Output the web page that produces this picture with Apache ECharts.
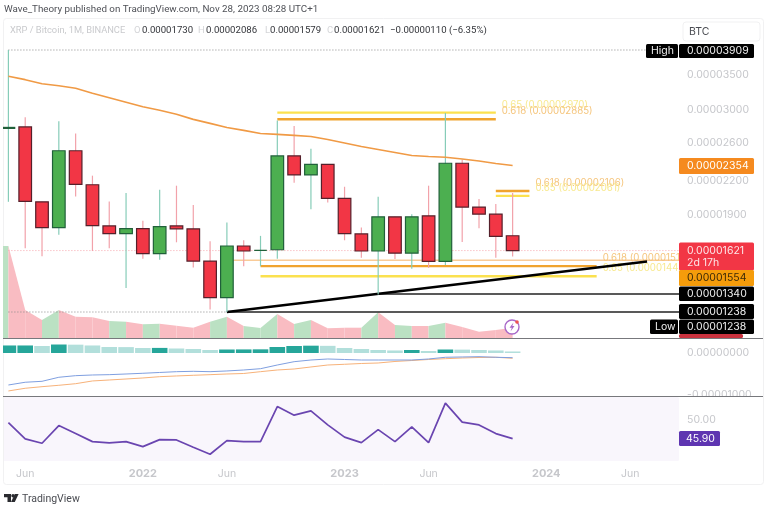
<!DOCTYPE html>
<html>
<head>
<meta charset="utf-8">
<title>XRP / Bitcoin</title>
<script src="https://cdn.jsdelivr.net/npm/echarts@6/dist/echarts.min.js"></script>
<style>
  html, body { margin: 0; padding: 0; background: #fff; }
  #chart { width: 767px; height: 510px; }
</style>
</head>
<body>
<div id="chart"></div>
<script>
// prices are in satoshi (1e-8 BTC), the axis formatter turns them back into BTC
const months = [
  '2021-05', '2021-06', '2021-07', '2021-08', '2021-09', '2021-10', '2021-11', '2021-12',
  '2022-01', '2022-02', '2022-03', '2022-04', '2022-05', '2022-06', '2022-07', '2022-08',
  '2022-09', '2022-10', '2022-11', '2022-12', '2023-01', '2023-02', '2023-03', '2023-04',
  '2023-05', '2023-06', '2023-07', '2023-08', '2023-09', '2023-10', '2023-11', '2023-12',
  '2024-01', '2024-02', '2024-03', '2024-04', '2024-05', '2024-06', '2024-07', '2024-08',
  '2024-09'
];
const opens = [2771, 2789, 2008, 1793, 2512, 2164, 1806, 1746, 1785, 1599, 1806, 1783, 1548, 1319, 1654, 1622,
  1627, 2456, 2259, 2367, 2039, 1744, 1618, 1880, 1603, 1888, 1546, 2378, 1962, 1902, 1730];
const highs = [3909, 2909, 2008, 2858, 2710, 2252, 2011, 2087, 1847, 2117, 2155, 1979, 1689, 1833, 1696, 1729,
  2870, 2799, 2534, 2367, 2145, 1793, 2053, 1880, 1902, 2155, 2965, 2417, 2032, 1988, 2086];
const lows = [2008, 1637, 1582, 1738, 2056, 1618, 1637, 1376, 1564, 1557, 1681, 1505, 1251, 1238, 1514, 1514,
  1564, 2184, 1944, 2002, 1696, 1571, 1337, 1562, 1496, 1503, 1521, 1683, 1788, 1571, 1579];
const closes = [2783, 2011, 1793, 2512, 2167, 1809, 1746, 1785, 1599, 1801, 1783, 1548, 1319, 1654, 1618, 1622,
  2456, 2259, 2367, 2039, 1746, 1618, 1880, 1603, 1880, 1546, 2378, 1962, 1902, 1726, 1621];
const ma200 = [3485, 3432, 3372, 3342, 3306, 3234, 3170, 3108, 3047, 3000, 2948, 2883, 2833, 2783, 2747, 2710,
  2699, 2687, 2675, 2640, 2600, 2560, 2526, 2493, 2460, 2449, 2441, 2422, 2401, 2375, 2354];
const volumes = [92, 28, 18, 28, 21.3, 20.7, 17, 16.3, 13.7, 14.3, 12.3, 10.3, 16.3, 21.3, 12, 10,
  24, 14, 18, 9.7, 10.3, 10.3, 25.7, 13, 12, 12, 15.3, 11, 6.3, 8, 10.3];
const macdHist = [179, 179, 167, 202, 198, 179, 143, 140, 119, 121, 107, 95, 71, 83, 85, 87,
  143, 167, 174, 170, 119, 95, 71, 60, 71, 48, 83, 80, 71, 60, 36];
const macdLine = [-762, -697, -674, -578, -540, -524, -516, -500, -483, -464, -445, -436, -445, -428, -405, -374,
  -286, -207, -167, -143, -155, -167, -167, -167, -167, -143, -102, -95, -88, -102, -112];
const macdSignal = [-904, -840, -802, -769, -731, -666, -643, -619, -595, -564, -547, -531, -516, -500, -488, -445,
  -405, -381, -333, -286, -269, -250, -238, -202, -179, -155, -136, -119, -107, -102, -126];
const rsi = [49.41, 45.83, 44.89, 48.75, 47.0, 45.24, 44.96, 45.24, 44.14, 45.68, 45.61, 44.01, 42.48, 45.46, 45.24, 45.24,
  52.92, 51.03, 51.97, 48.9, 46.21, 45.02, 47.87, 45.24, 48.46, 45.02, 53.66, 49.5, 48.9, 47.0, 45.9];

const priceTicks = [3500, 3000, 2600, 2200, 1900];
const macdTicks = [0, -1000];
const rsiTicks = [50];

// [label, price, first month index, last month index]
const fibLines = [
  ['0.65 (0.00002970)', 2970, 16, 29],
  ['0.618 (0.00002885)', 2885, 16, 29],
  ['0.618 (0.00002106)', 2106, 29, 31],
  ['0.65 (0.00002061)', 2061, 29, 31],
  ['0.618 (0.00001514)', 1514, 15, 35],
  ['0.65 (0.00001448)', 1448, 15, 35]
];

const FONT = 'Inter, "Noto Sans", sans-serif';
const HEAD_FONT = 'Roboto, "Noto Sans", sans-serif';
const GRID_LEFT = -0.9;
const GRID_WIDTH = 690;
const GRAY_TEXT = '#c6c7cb';

const chart = echarts.init(document.getElementById('chart'));

const fmtPrice = v => (v / 1e8).toFixed(8);

function isUp(i) {
  return closes[i] >= opens[i];
}

function segment(name, from, to, price, color, width, type, z) {
  return {
    name: name,
    type: 'line',
    xAxisIndex: 0,
    yAxisIndex: 0,
    clip: false,
    silent: true,
    showSymbol: false,
    z: z || 3,
    lineStyle: { color: color, width: width, type: type || 'solid' },
    data: [[from, price], [to, price]]
  };
}

const series = [];

// volume, one filled wedge per month coloured by that month's candle
series.push({
  type: 'custom',
  xAxisIndex: 1,
  yAxisIndex: 1,
  z: 1,
  silent: true,
  renderItem: function(params, api) {
    const i = api.value(0);
    const step = api.size([1, 0])[0];
    const cur = api.coord([i, api.value(1)]);
    const base = api.coord([i, 0])[1];
    const prevX = cur[0] - step;
    const prevY = i === 0 ? cur[1] : api.coord([i - 1, api.value(2)])[1];
    return {
      type: 'polygon',
      shape: { points: [[prevX, base], [prevX, prevY], [cur[0], cur[1]], [cur[0], base]] },
      style: { fill: api.value(3) ? '#bbe1c3' : '#f9bcc2' }
    };
  },
  data: volumes.map((v, i) => [i, v, i > 0 ? volumes[i - 1] : v, isUp(i) ? 1 : 0])
});

// dotted high, low and last price lines
series.push(segment('high', 0, 38, 3909, '#8a8a8a', 1, [1, 2]));
series.push(segment('low', 0, 13, 1238, '#8a8a8a', 1, [1, 2]));
series.push(segment('last', 0, 40, 1621, '#f7a6ae', 1, [1, 2]));

// fib levels
series.push(segment('level', 13, 40, 1554, '#f9cb98', 1.5));
fibLines.forEach(function(f) {
  const yellow = f[0].indexOf('0.65') === 0;
  const s = segment(f[0], f[2], f[3], f[1], yellow ? '#fbe14f' : '#f0a32e', 2.4);
  s.endLabel = {
    show: true,
    formatter: f[0],
    color: yellow ? '#f8e98f' : '#f5c57c',
    fontFamily: FONT,
    fontSize: 9.7,
    distance: 6,
    offset: [0, -8]
  };
  series.push(s);
});

// support lines
series.push(segment('support 1340', 22, 40, 1340, '#222', 1.5));
series.push(segment('support 1238', 13, 40, 1238, '#222', 1.5));
series.push({
  name: 'trend',
  type: 'line',
  xAxisIndex: 0,
  yAxisIndex: 0,
  clip: false,
  showSymbol: false,
  silent: true,
  z: 4,
  lineStyle: { color: '#000', width: 2.5 },
  data: [[13, 1238], [38, 1545]]
});

// candles, custom because wick and body have different colours here
series.push({
  type: 'custom',
  xAxisIndex: 0,
  yAxisIndex: 0,
  z: 5,
  silent: true,
  encode: { x: 0, y: [1, 2, 3, 4] },
  renderItem: function(params, api) {
    const i = api.value(0);
    const w = api.size([1, 0])[0] * 0.75;
    const up = api.value(2) >= api.value(1);
    const top = api.coord([i, Math.max(api.value(1), api.value(2))]);
    const bottom = api.coord([i, Math.min(api.value(1), api.value(2))]);
    const high = api.coord([i, api.value(4)]);
    const low = api.coord([i, api.value(3)]);
    return {
      type: 'group',
      children: [
        {
          type: 'line',
          shape: { x1: top[0], y1: high[1], x2: top[0], y2: low[1] },
          style: { stroke: up ? '#86ccb8' : '#f2a2aa', lineWidth: 1.2 }
        },
        {
          type: 'rect',
          shape: { x: top[0] - w / 2, y: top[1], width: w, height: bottom[1] - top[1] },
          style: { fill: up ? '#4caf50' : '#f23645', stroke: up ? '#20603a' : '#55202b', lineWidth: 1.2 }
        }
      ]
    };
  },
  data: opens.map((o, i) => [i, o, closes[i], lows[i], highs[i]])
});

series.push({
  name: 'MA',
  type: 'line',
  xAxisIndex: 0,
  yAxisIndex: 0,
  showSymbol: false,
  silent: true,
  z: 6,
  clip: false,
  lineStyle: { color: '#f09a45', width: 1.6 },
  data: ma200.map((v, i) => [i, v])
});

// macd pane
series.push({
  type: 'bar',
  xAxisIndex: 2,
  yAxisIndex: 2,
  barWidth: 15.6,
  silent: true,
  data: macdHist.map(function(v, i) {
    const rising = i === 0 || v >= macdHist[i - 1];
    return { value: [i, v], itemStyle: { color: rising ? '#26a69a' : '#b2dfdb' } };
  })
});
series.push({
  type: 'line',
  xAxisIndex: 2,
  yAxisIndex: 2,
  showSymbol: false,
  silent: true,
  lineStyle: { color: '#f7b27a', width: 1 },
  data: macdSignal.map((v, i) => [i, v])
});
series.push({
  type: 'line',
  xAxisIndex: 2,
  yAxisIndex: 2,
  showSymbol: false,
  silent: true,
  lineStyle: { color: '#7f9fe0', width: 1 },
  data: macdLine.map((v, i) => [i, v])
});

// rsi pane
series.push({
  type: 'line',
  xAxisIndex: 3,
  yAxisIndex: 3,
  showSymbol: false,
  silent: true,
  lineStyle: { color: '#6a45b0', width: 1.7 },
  data: rsi.map((v, i) => [i, v])
});

const hiddenX = {
  type: 'category',
  data: months,
  show: false
};
const xAxes = [0, 1, 2].map(function(g) {
  return Object.assign({ gridIndex: g }, hiddenX);
});
xAxes.push({
  type: 'category',
  gridIndex: 3,
  data: months,
  axisLine: { show: false },
  axisTick: { show: false },
  axisLabel: {
    interval: function(i, m) {
      return m.slice(5) === '06' || m.slice(5) === '01';
    },
    margin: 7,
    hideOverlap: false,
    formatter: function(m) {
      return m.slice(5) === '06' ? '{m|Jun}' : '{y|' + m.slice(0, 4) + '}';
    },
    rich: {
      m: { color: GRAY_TEXT, fontFamily: FONT, fontSize: 10.5 },
      y: { color: GRAY_TEXT, fontFamily: FONT, fontSize: 11, fontWeight: 'bold' }
    }
  }
});

function rightAxis(grid, extra) {
  return Object.assign({
    gridIndex: grid,
    position: 'right',
    axisLine: { show: false },
    axisTick: { show: false },
    splitLine: { show: false },
    axisLabel: {
      color: GRAY_TEXT,
      fontFamily: FONT,
      fontSize: 10.5,
      margin: -2,
      showMinLabel: true,
      showMaxLabel: true
    }
  }, extra);
}

const yAxes = [
  rightAxis(0, { type: 'log', logBase: 10, min: 1238, max: 3909 }),
  { type: 'value', gridIndex: 1, min: 0, max: 92, show: false },
  rightAxis(2, { type: 'value', min: -1024, max: 333 }),
  rightAxis(3, { type: 'value', min: 41, max: 55 })
];
yAxes[0].axisLabel = Object.assign({}, yAxes[0].axisLabel, { customValues: priceTicks, formatter: fmtPrice });
yAxes[2].axisLabel = Object.assign({}, yAxes[2].axisLabel, { customValues: macdTicks, formatter: fmtPrice });
yAxes[3].axisLabel = Object.assign({}, yAxes[3].axisLabel, { customValues: rsiTicks, formatter: v => v.toFixed(2) });

function txt(x, y, text, color, size, family) {
  return {
    type: 'text',
    x: x,
    y: y,
    z: 60,
    silent: true,
    style: {
      text: text,
      fill: color,
      font: (size || 10.5) + 'px ' + (family || FONT),
      verticalAlign: 'middle',
      textAlign: 'left'
    }
  };
}

function box(x, y, w, h, fill, z) {
  return {
    type: 'rect',
    z: z === undefined ? 50 : z,
    silent: true,
    shape: { x: x, y: y, width: w, height: h, r: 1.5 },
    style: { fill: fill }
  };
}

function badge(x, y, w, h, fill, text, color, textX) {
  return [box(x, y, w, h, fill), txt(textX || x + 8, y + h / 2, text, color)];
}

const graphics = [
  // rsi pane background, behind the series
  box(3, 397, 676, 64, '#f9f6fc', 0),
  // chart frame
  {
    type: 'rect', z: 0, silent: true,
    shape: { x: 3.5, y: 18.5, width: 760, height: 466, r: 3 },
    style: { fill: 'none', stroke: '#f1f1f2', lineWidth: 1 }
  },
  // hides the first candle left of the frame
  box(0, 19, 3, 445, '#fff', 40),
  // header
  txt(4, 10, 'Wave_Theory published on TradingView.com, Nov 28, 2023 08:28 UTC+1', '#4f5157', 9.8, HEAD_FONT),
  txt(10, 30.5, 'XRP / Bitcoin, 1M, BINANCE', '#c9cacd', 9.3, HEAD_FONT),
  txt(134, 30.5, 'O', '#d4d5d8', 9.5, HEAD_FONT), txt(142, 30.5, '0.00001730', '#33353a', 9.6, HEAD_FONT),
  txt(198, 30.5, 'H', '#d4d5d8', 9.5, HEAD_FONT), txt(206, 30.5, '0.00002086', '#33353a', 9.6, HEAD_FONT),
  txt(265, 30.5, 'L', '#d4d5d8', 9.5, HEAD_FONT), txt(270, 30.5, '0.00001579', '#33353a', 9.6, HEAD_FONT),
  txt(327, 30.5, 'C', '#d4d5d8', 9.5, HEAD_FONT), txt(334, 30.5, '0.00001621', '#33353a', 9.6, HEAD_FONT),
  txt(390, 30.5, '\u22120.00000110 (\u22126.35%)', '#33353a', 9.6, HEAD_FONT),
  // currency box
  {
    type: 'rect', z: 50, silent: true,
    shape: { x: 683, y: 22, width: 77, height: 19, r: 3 },
    style: { fill: '#fff', stroke: '#f1f1f2' }
  },
  txt(689, 31.5, 'BTC', '#4a4c52', 10.5),
  // pane separators
  box(679, 334, 64, 4, '#c9323e', 48),
  box(679, 397, 84, 8, '#fff', 48),
  {
    type: 'line', z: 55, silent: true,
    shape: { x1: 3, y1: 338.5, x2: 763, y2: 338.5 },
    style: { stroke: '#77787c', lineWidth: 1 }
  },
  {
    type: 'line', z: 55, silent: true,
    shape: { x1: 3, y1: 396.5, x2: 763, y2: 396.5 },
    style: { stroke: '#77787c', lineWidth: 1 }
  },
  // alert icon on the last volume bar
  {
    type: 'circle', z: 58, silent: true,
    shape: { cx: 512, cy: 327, r: 7 },
    style: { fill: '#fff', stroke: '#a868c8', lineWidth: 1.4 }
  },
  {
    type: 'polygon', z: 59, silent: true,
    shape: { points: [[513.5, 322.5], [509.5, 327.8], [511.8, 327.8], [510.5, 331.5], [514.5, 326], [512.3, 326]] },
    style: { fill: '#a868c8' }
  },
  { type: 'circle', z: 59, silent: true, shape: { cx: 517, cy: 322, r: 1.8 }, style: { fill: '#ef5350' } },
  // logo
  {
    type: 'polygon', z: 60, silent: true,
    shape: { points: [[4, 494], [11, 494], [11, 502], [7.5, 502], [7.5, 497.3], [4, 497.3]] },
    style: { fill: '#2a2b2f' }
  },
  { type: 'circle', z: 60, silent: true, shape: { cx: 13, cy: 495.7, r: 1.7 }, style: { fill: '#2a2b2f' } },
  {
    type: 'polygon', z: 60, silent: true,
    shape: { points: [[14.8, 494], [18.6, 494], [14.8, 502], [11, 502]] },
    style: { fill: '#2a2b2f' }
  },
  txt(22, 499, 'TradingView', '#4a4c52', 10.5, HEAD_FONT)
].concat(
  badge(646, 44, 32, 14, '#000', 'High', '#eee', 651),
  badge(679, 44, 75, 14, '#000', '0.00003909', '#eee'),
  badge(679, 158, 75, 16, '#f58a1f', '0.00002354', '#fff'),
  [box(679, 242.5, 75, 28, '#f23645'),
    txt(687, 250.5, '0.00001621', '#fde5e7'),
    txt(687, 263, '2d 17h', '#fde5e7')],
  badge(679, 270, 75, 16, '#f59c0b', '0.00001554', '#3c2a08'),
  badge(679, 286.5, 75, 14.5, '#000', '0.00001340', '#eee'),
  badge(679, 304, 75, 15, '#000', '0.00001238', '#eee'),
  badge(650, 319.5, 28, 14.5, '#000', 'Low', '#eee', 655),
  badge(679, 319.5, 75, 14.5, '#000', '0.00001238', '#eee'),
  badge(679, 431, 41, 15, '#5e35b1', '45.90', '#fff', 686)
);

chart.setOption({
  animation: false,
  backgroundColor: '#fff',
  textStyle: { fontFamily: FONT },
  grid: [
    { left: GRID_LEFT, width: GRID_WIDTH, top: 50, height: 262 },
    { left: GRID_LEFT, width: GRID_WIDTH, top: 246, height: 92 },
    { left: GRID_LEFT, width: GRID_WIDTH, top: 339, height: 57 },
    { left: GRID_LEFT, width: GRID_WIDTH, top: 397, height: 64 }
  ],
  xAxis: xAxes,
  yAxis: yAxes,
  series: series,
  graphic: { elements: graphics }
});
</script>
</body>
</html>
